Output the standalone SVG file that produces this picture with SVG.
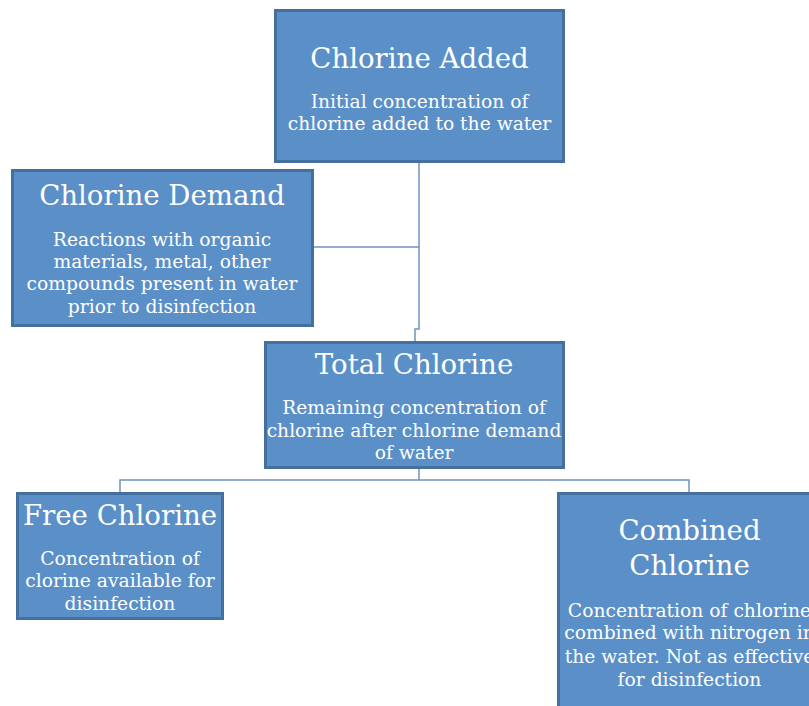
<svg xmlns="http://www.w3.org/2000/svg" width="809" height="706" viewBox="0 0 809 706">
<style>
.box{fill:#5b8fc8;stroke:#4470a0;stroke-width:3}
.t{font-family:"DejaVu Serif","Liberation Serif",serif;fill:#ffffff;text-anchor:middle}
.h{font-size:27.6px}
.b{font-size:18.7px}
.c{fill:none;stroke:#6f93c0;stroke-width:1.5}
</style>
<rect width="809" height="706" fill="#ffffff"/>
<g id="connectors">
<path class="c" d="M419,162 V329 H415 V341"/>
<path class="c" d="M312,247 H419"/>
<path class="c" d="M419,468 V480"/>
<path class="c" d="M120,492 V480 H689 V492"/>
</g>
<g id="chlorine-added">
<rect class="box" x="275.5" y="10.5" width="288" height="151"/>
<text class="t h" x="419.5" y="68">Chlorine Added</text>
<text class="t b" x="419.5" y="108">Initial concentration of</text>
<text class="t b" x="419.5" y="130">chlorine added to the water</text>
</g>
<g id="chlorine-demand">
<rect class="box" x="12.5" y="170.5" width="300" height="155"/>
<text class="t h" x="162" y="205">Chlorine Demand</text>
<text class="t b" x="162" y="246">Reactions with organic</text>
<text class="t b" x="162" y="268">materials, metal, other</text>
<text class="t b" x="162" y="290">compounds present in water</text>
<text class="t b" x="162" y="313">prior to disinfection</text>
</g>
<g id="total-chlorine">
<rect class="box" x="265.5" y="342.5" width="298" height="125"/>
<text class="t h" x="414" y="374">Total Chlorine</text>
<text class="t b" x="414" y="414">Remaining concentration of</text>
<text class="t b" x="414" y="437">chlorine after chlorine demand</text>
<text class="t b" x="414" y="459">of water</text>
</g>
<g id="free-chlorine">
<rect class="box" x="17.5" y="493.5" width="205" height="125"/>
<text class="t h" x="120" y="525">Free Chlorine</text>
<text class="t b" x="120" y="565">Concentration of</text>
<text class="t b" x="120" y="587">clorine available for</text>
<text class="t b" x="120" y="610">disinfection</text>
</g>
<g id="combined-chlorine">
<rect class="box" x="558.5" y="493.5" width="262" height="230"/>
<text class="t h" x="689.5" y="540">Combined</text>
<text class="t h" x="689.5" y="575">Chlorine</text>
<text class="t b" x="689.5" y="617">Concentration of chlorine</text>
<text class="t b" x="689.5" y="639">combined with nitrogen in</text>
<text class="t b" x="689.5" y="663">the water. Not as effective</text>
<text class="t b" x="689.5" y="686">for disinfection</text>
</g>
</svg>
